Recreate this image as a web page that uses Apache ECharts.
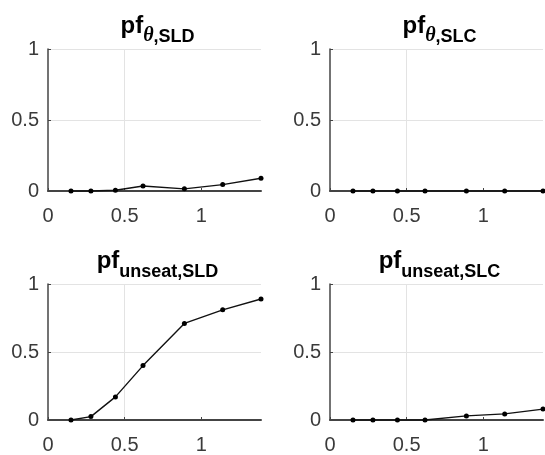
<!DOCTYPE html>
<html>
<head>
<meta charset="utf-8">
<script src="https://cdn.jsdelivr.net/npm/echarts@6/dist/echarts.min.js"></script>
<style>
  html, body { margin: 0; padding: 0; background: #fff; }
  #chart { width: 545px; height: 455px; }
</style>
</head>
<body>
<div id="chart"></div>
<script>
// Peak ground acceleration levels (g) shared by all four panels
const pga = [0.15, 0.28, 0.44, 0.62, 0.89, 1.14, 1.39];

// Failure probabilities per mode and limit state
const pfThetaSLD  = [0, 0, 0.005, 0.035, 0.015, 0.045, 0.09];
const pfThetaSLC  = [0, 0, 0, 0, 0, 0, 0];
const pfUnseatSLD = [0, 0.025, 0.17, 0.40, 0.71, 0.81, 0.89];
const pfUnseatSLC = [0, 0, 0, 0, 0.03, 0.045, 0.08];

// Tick labels
const xTicks = [0, 0.5, 1];
const yTicks = [0, 0.5, 1];

// Panel titles: base text, subscript parts
const titleBase = 'pf';
const titleSubs = [
  { greek: 'θ', rest: ',SLD' },
  { greek: 'θ', rest: ',SLC' },
  { greek: '',  rest: 'unseat,SLD' },
  { greek: '',  rest: 'unseat,SLC' }
];
const panelValues = [pfThetaSLD, pfThetaSLC, pfUnseatSLD, pfUnseatSLC];

const FONT = 'Liberation Sans, Arial, sans-serif';
const axisColor = '#444';
const gridColor = '#e3e3e3';

// 2x2 layout
const lefts = [48, 330];
const tops = [49, 284];
const plotW = 213;
const plotH = 142;

const grids = [], xAxes = [], yAxes = [], series = [], titles = [];

panelValues.forEach((vals, i) => {
  const col = i % 2, row = Math.floor(i / 2);
  grids.push({ left: lefts[col], top: tops[row], width: plotW, height: plotH, containLabel: false });

  xAxes.push({
    type: 'value', gridIndex: i,
    min: 0, max: Math.max(...pga), interval: 0.5,
    axisLine: { show: true, onZero: true, lineStyle: { color: axisColor, width: 2 } },
    axisTick: { show: true, inside: true, length: 3, customValues: xTicks, lineStyle: { color: axisColor } },
    axisLabel: {
      customValues: xTicks, color: '#3a3a3a', fontSize: 20, fontFamily: FONT, margin: 15,
      formatter: v => String(v)
    },
    splitLine: { show: true, showMinLine: false, showMaxLine: false, lineStyle: { color: gridColor, width: 1 } }
  });

  yAxes.push({
    type: 'value', gridIndex: i,
    min: 0, max: 1, interval: 0.5,
    axisLine: { show: true, lineStyle: { color: axisColor, width: 1.5 } },
    axisTick: { show: true, inside: true, length: 3, lineStyle: { color: axisColor } },
    axisLabel: {
      customValues: yTicks, color: '#3a3a3a', fontSize: 20, fontFamily: FONT, margin: 9,
      formatter: v => String(v)
    },
    splitLine: { show: true, showMinLine: false, lineStyle: { color: gridColor, width: 1 } }
  });

  series.push({
    type: 'line', xAxisIndex: i, yAxisIndex: i,
    data: pga.map((x, k) => [x, vals[k]]),
    symbol: 'circle', symbolSize: 5, clip: false,
    lineStyle: { color: '#111', width: 1.4 },
    itemStyle: { color: '#000' },
    z: 5
  });

  const s = titleSubs[i];
  const text = '{pf|' + titleBase + '}' + (s.greek ? '{gk|' + s.greek + '}' : '') + '{sb|' + s.rest + '}';
  titles.push({
    text: text,
    left: lefts[col] + plotW / 2 - 2,
    top: tops[row] - 34,
    textAlign: 'center',
    textStyle: {
      rich: {
        pf: { fontFamily: FONT, fontWeight: 'bold', fontSize: 24, lineHeight: 26, padding: [0, 0, 8, 0], verticalAlign: 'bottom', color: '#000' },
        gk: { fontFamily: 'Liberation Serif, serif', fontStyle: 'italic', fontWeight: 'bold', fontSize: 20, lineHeight: 20, verticalAlign: 'bottom', color: '#000' },
        sb: { fontFamily: FONT, fontWeight: 'bold', fontSize: 18, lineHeight: 20, verticalAlign: 'bottom', color: '#000' }
      }
    }
  });
});

const chart = echarts.init(document.getElementById('chart'), null, { renderer: 'canvas' });
chart.setOption({
  animation: false,
  backgroundColor: '#fff',
  title: titles,
  grid: grids,
  xAxis: xAxes,
  yAxis: yAxes,
  series: series
});
</script>
</body>
</html>
